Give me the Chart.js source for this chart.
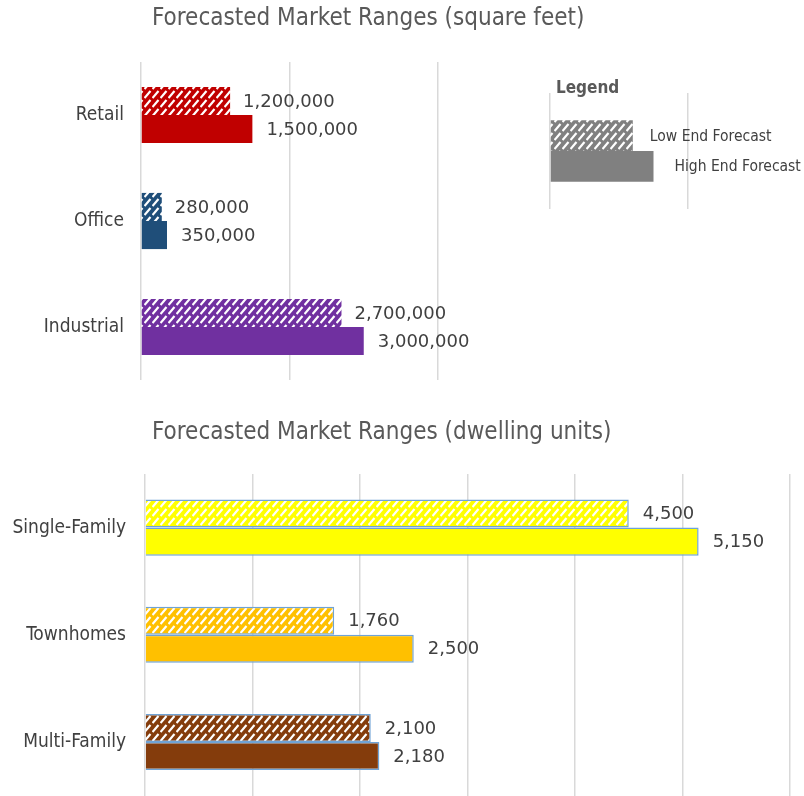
<!DOCTYPE html>
<html>
<head>
<meta charset="utf-8">
<script src="https://cdn.jsdelivr.net/npm/chart.js@4/dist/chart.umd.min.js"></script>
<style>
  html, body { margin: 0; padding: 0; background: #fff; width: 804px; height: 796px; overflow: hidden; }
  .box { position: absolute; }
  #sqftBox { left: 0; top: 0; width: 804px; height: 400px; }
  #keyBox { left: 530px; top: 60px; width: 300px; height: 160px; }
  #unitBox { left: 0; top: 400px; width: 804px; height: 407px; }
</style>
</head>
<body>
<div class="box" id="sqftBox"><canvas id="sqft"></canvas></div>
<div class="box" id="keyBox"><canvas id="key"></canvas></div>
<div class="box" id="unitBox"><canvas id="units"></canvas></div>
<script>
// Commercial space forecasts (square feet)
const sqftCategories = ['Retail', 'Office', 'Industrial'];
const sqftLow = [1200000, 280000, 2700000];
const sqftHigh = [1500000, 350000, 3000000];
const sqftColors = ['#C00000', '#1F4E79', '#7030A0'];

// Residential forecasts (dwelling units)
const unitCategories = ['Single-Family', 'Townhomes', 'Multi-Family'];
const unitLow = [4500, 1760, 2100];
const unitHigh = [5150, 2500, 2180];
const unitColors = ['#FFFF00', '#FFC000', '#843C0C'];

// Key chart: a sample pair of bars named after the two series
const keySeries = ['Low End Forecast', 'High End Forecast'];
const keyLow = [1200000];
const keyHigh = [1500000];
const keyColor = '#808080';

const NARROW = '"Liberation Sans Narrow", "DejaVu Sans Condensed", Roboto, sans-serif';
const NUMFONT = '"DejaVu Sans", "Liberation Sans", sans-serif';

// Dashed upward-diagonal fill used for the low-end bars
function hatch(color) {
  const c = document.createElement('canvas');
  c.width = 8; c.height = 9;
  const g = c.getContext('2d');
  g.fillStyle = color;
  g.fillRect(0, 0, 8, 9);
  g.strokeStyle = '#ffffff';
  g.lineWidth = 2.2;
  g.lineCap = 'butt';
  g.beginPath();
  g.moveTo(0.5, 8);
  g.lineTo(6.5, 1);
  g.stroke();
  return g.createPattern(c, 'repeat');
}

// Writes a heading on the canvas
const headline = {
  id: 'headline',
  afterDraw(chart, args, opts) {
    if (!opts.text) return;
    const ctx = chart.ctx;
    ctx.save();
    ctx.font = opts.font;
    ctx.fillStyle = opts.color;
    ctx.textAlign = 'left';
    ctx.textBaseline = 'middle';
    ctx.fillText(opts.text, opts.x, opts.y);
    ctx.restore();
  }
};

// Writes a label just past the end of each bar
const barLabels = {
  id: 'barLabels',
  afterDatasetsDraw(chart, args, opts) {
    const ctx = chart.ctx;
    ctx.save();
    ctx.font = opts.font;
    ctx.fillStyle = opts.color;
    ctx.textAlign = 'left';
    ctx.textBaseline = 'middle';
    chart.data.datasets.forEach((ds, di) => {
      const meta = chart.getDatasetMeta(di);
      meta.data.forEach((bar, i) => {
        const txt = opts.useSeriesName ? ds.label : Number(ds.data[i]).toLocaleString('en-US');
        ctx.fillText(txt, bar.x + opts.offsets[di], bar.y + 1);
      });
    });
    ctx.restore();
  }
};

Chart.register(headline, barLabels);

function valueAxis(max, step) {
  return {
    type: 'linear', min: 0, max: max,
    ticks: { display: false, stepSize: step },
    grid: { color: '#d9d9d9', lineWidth: 1.5, drawTicks: false },
    border: { display: false },
    afterFit: s => { s.height = 0; }
  };
}

// Category axis: labels sit a fixed gap left of the plot (gap given as an invisible tick length)
function categoryAxis(width, gap, showLabels) {
  return {
    type: 'category',
    ticks: { display: showLabels, padding: 0, color: '#404040', font: { family: NARROW, size: 19 } },
    grid: { display: false, drawTicks: true, tickLength: gap },
    border: { display: false },
    afterFit: s => { s.width = width; }
  };
}

function baseOptions() {
  return {
    indexAxis: 'y',
    responsive: true,
    maintainAspectRatio: false,
    animation: false,
    events: [],
    plugins: { legend: { display: false }, tooltip: { enabled: false }, title: { display: false } }
  };
}

// Square-feet chart
const sqftOpts = baseOptions();
sqftOpts.layout = { padding: { left: 0, top: 62, right: 366, bottom: 20 } };
sqftOpts.scales = { x: valueAxis(4000000, 2000000), y: categoryAxis(141, 17, true) };
sqftOpts.plugins.headline = { text: 'Forecasted Market Ranges (square feet)', x: 152, y: 19, font: '24px ' + NARROW, color: '#595959' };
sqftOpts.plugins.barLabels = { font: '18px ' + NUMFONT, color: '#404040', offsets: [13, 14] };
new Chart(document.getElementById('sqft'), {
  type: 'bar',
  data: {
    labels: sqftCategories,
    datasets: [
      { label: keySeries[0], data: sqftLow, backgroundColor: sqftColors.map(hatch), categoryPercentage: 0.53, barPercentage: 1 },
      { label: keySeries[1], data: sqftHigh, backgroundColor: sqftColors, categoryPercentage: 0.53, barPercentage: 1 }
    ]
  },
  options: sqftOpts
});

// Key chart
const keyOpts = baseOptions();
keyOpts.layout = { padding: { left: 0, top: 33, right: 4, bottom: 11 } };
keyOpts.scales = { x: valueAxis(4000000, 2000000), y: categoryAxis(20, 0, false) };
keyOpts.plugins.headline = { text: 'Legend', x: 26, y: 29, font: 'bold 17px ' + NARROW, color: '#595959' };
keyOpts.plugins.barLabels = { font: '15.5px ' + NARROW, color: '#404040', offsets: [17, 21], useSeriesName: true };
new Chart(document.getElementById('key'), {
  type: 'bar',
  data: {
    labels: [''],
    datasets: [
      { label: keySeries[0], data: keyLow, backgroundColor: hatch(keyColor), categoryPercentage: 0.53, barPercentage: 1 },
      { label: keySeries[1], data: keyHigh, backgroundColor: keyColor, categoryPercentage: 0.53, barPercentage: 1 }
    ]
  },
  options: keyOpts
});

// Dwelling-units chart
const unitOpts = baseOptions();
unitOpts.layout = { padding: { left: 0, top: 74, right: 14, bottom: 11 } };
unitOpts.scales = { x: valueAxis(6000, 1000), y: categoryAxis(145, 19, true) };
unitOpts.plugins.headline = { text: 'Forecasted Market Ranges (dwelling units)', x: 152, y: 33, font: '24px ' + NARROW, color: '#595959' };
unitOpts.plugins.barLabels = { font: '18px ' + NUMFONT, color: '#404040', offsets: [14, 14] };
new Chart(document.getElementById('units'), {
  type: 'bar',
  data: {
    labels: unitCategories,
    datasets: [
      { label: keySeries[0], data: unitLow, backgroundColor: unitColors.map(hatch), borderColor: '#6fa3d6', borderWidth: 1.5, categoryPercentage: 0.523, barPercentage: 1 },
      { label: keySeries[1], data: unitHigh, backgroundColor: unitColors, borderColor: '#6fa3d6', borderWidth: 1.5, categoryPercentage: 0.523, barPercentage: 1 }
    ]
  },
  options: unitOpts
});
</script>
</body>
</html>
